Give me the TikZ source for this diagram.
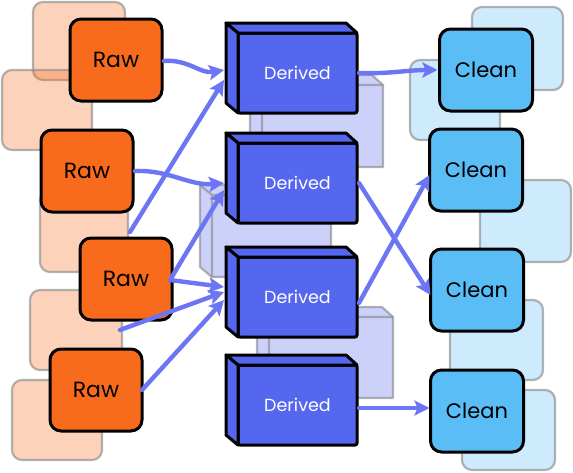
\documentclass[tikz,border=0pt]{standalone}
\usepackage{fontspec}
\setmainfont{Poppins}
\usetikzlibrary{arrows.meta,calc}
\definecolor{rawc}{RGB}{248,106,28}
\definecolor{derc}{RGB}{85,103,238}
\definecolor{clnc}{RGB}{91,189,245}
\definecolor{arrc}{RGB}{108,117,243}
\definecolor{bgline}{RGB}{140,140,140}
\newcommand\dfaces[1]{%
  \draw[dface] (#1.north west) -- ++(-12,-10) -- ($(#1.north east)+(-11,-10)$) -- (#1.north east) -- cycle;
  \draw[dface] (#1.north west) -- ++(-12,-10) -- ($(#1.south west)+(-12,-10)$) -- (#1.south west) -- cycle;}
\newcommand\lavbox[4]{% x y w h of front face
  \draw[bglav] (#1-12,#2-10) -- (#1+#3-11,#2-10) -- (#1+#3,#2) -- (#1+#3,#2+#4) -- (#1,#2+#4) -- (#1-12,#2+#4-10) -- cycle;
  \draw[bgedge] (#1-12,#2-10) -- (#1,#2) -- (#1+#3,#2) (#1,#2) -- (#1,#2+#4);}
\begin{document}
\begin{tikzpicture}[x=1pt,y=-1pt,
  bgraw/.style={fill=rawc, fill opacity=0.3, draw=bgline, draw opacity=0.65, line width=2.2pt, rounded corners=10pt},
  bgcln/.style={fill=clnc, fill opacity=0.3, draw=bgline, draw opacity=0.65, line width=2.2pt, rounded corners=10pt},
  bglav/.style={fill=derc, fill opacity=0.3, draw=bgline, draw opacity=0.65, line width=2.2pt, line join=round},
  bgedge/.style={draw=bgline, draw opacity=0.65, line width=2.2pt, line join=round},
  rawbox/.style={draw=black, line width=3pt, fill=rawc, rounded corners=11pt, minimum width=92pt, minimum height=82pt, inner sep=0pt, outer sep=0pt, font=\fontsize{22}{26}\selectfont},
  clnbox/.style={draw=black, line width=3pt, fill=clnc, rounded corners=11pt, minimum width=93pt, minimum height=82pt, inner sep=0pt, outer sep=0pt, font=\fontsize{21}{25}\selectfont},
  dfront/.style={draw=black, line width=3pt, fill=derc, rounded corners=2pt, minimum width=119pt, minimum height=80pt, inner sep=0pt, outer sep=0pt, text=white, font=\fontsize{17.5}{21}\selectfont},
  dface/.style={draw=black, line width=3pt, fill=derc, line join=round},
  conn/.style={draw=arrc, line width=4.4pt, line cap=round, -{Stealth[length=15pt,width=15pt,inset=3pt]}}]
\useasboundingbox (0,0) rectangle (573,472);
% background squares
\draw[bgraw] (33,2) rectangle (125,80);
\draw[bgraw] (2,70) rectangle (92,150);
\draw[bgraw] (40,190) rectangle (128,272);
\draw[bgraw] (30,290) rectangle (122,370);
\draw[bgraw] (12,380) rectangle (102,460);
\lavbox{262}{85}{121}{82}
\lavbox{212}{195}{119}{82}
\lavbox{269}{317}{124}{81}
\draw[bgcln] (472,7) rectangle (563,90);
\draw[bgcln] (410,60) rectangle (500,140);
\draw[bgcln] (480,180) rectangle (571,262);
\draw[bgcln] (450,300) rectangle (543,380);
\draw[bgcln] (462,390) rectangle (555,470);
% nodes
\node[rawbox] (r1) at (116,60) {Raw};
\node[rawbox] (r2) at (87,171) {Raw};
\node[rawbox] (r3) at (126,279) {Raw};
\node[rawbox] (r4) at (96,390) {Raw};
\node[dfront] (d1) at (297.5,73) {Derived};
\node[dfront] (d2) at (297.5,183) {Derived};
\node[dfront] (d3) at (297.5,297) {Derived};
\node[dfront] (d4) at (297.5,405) {Derived};
\dfaces{d1}\dfaces{d2}\dfaces{d3}\dfaces{d4}
\node[clnbox] (c1) at (486,70) {Clean};
\node[clnbox] (c2) at (476,170) {Clean};
\node[clnbox] (c3) at (477,290) {Clean};
\node[clnbox] (c4) at (477,411) {Clean};
% connectors
\draw[conn] ($(r1.east)+(2,1)$) to[out=5,in=190] ($(d1.west)+(-14,-3)$);
\draw[conn] ($(r2.east)+(2,0)$) to[out=2,in=185] ($(d2.west)+(-14,0)$);
\draw[conn] ($(r3.north)+(4,-6)$) -- ($(d1.west)+(-14,7)$);
\draw[conn] ($(r3.east)+(-2,1)$) -- ($(d2.west)+(-14,7)$);
\draw[conn] ($(r3.east)+(-2,1)$) -- ($(d3.west)+(-14,-10)$);
\draw[conn] ($(r3.south)+(-6,10)$) -- ($(d3.west)+(-14,-5)$);
\draw[conn] ($(r4.east)+(0,0)$) -- ($(d3.west)+(-14,3)$);
\draw[conn] ($(d1.east)+(2,0)$) to[out=-2,in=180] ($(c1.west)+(-2,0)$);
\draw[conn] ($(d2.east)+(2,0)$) -- ($(c3.west)+(0,5)$);
\draw[conn] ($(d3.east)+(2,6)$) -- ($(c2.west)+(0,5)$);
\draw[conn] ($(d4.east)+(2,3)$) -- ($(c4.west)+(-1,-3)$);
\end{tikzpicture}
\end{document}
